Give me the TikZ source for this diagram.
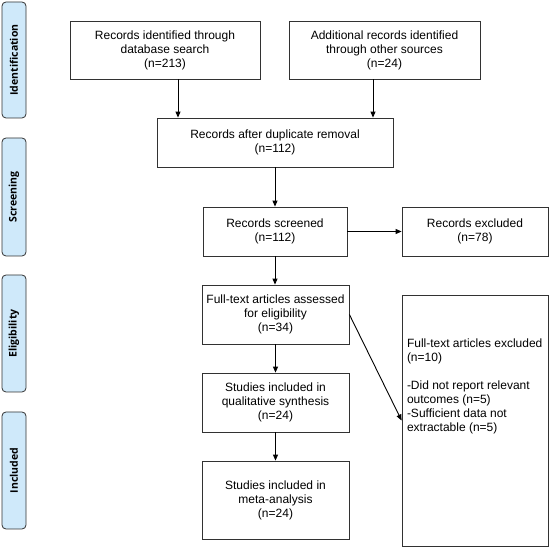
\documentclass[tikz,border=0pt]{standalone}
\usepackage{fontspec}
\setmainfont{Liberation Sans}
\newfontfamily\sidefont{Open Sans}
\usetikzlibrary{arrows.meta}
\definecolor{sideblue}{RGB}{207,233,250}
\definecolor{edge}{RGB}{50,50,50}
\begin{document}
\begin{tikzpicture}[x=1pt,y=-1pt,
  box/.style={draw=edge, line width=0.8pt, fill=white, align=center, inner sep=0pt,
    font=\fontsize{12}{14}\selectfont},
  side/.style={draw=edge, line width=0.8pt, fill=sideblue, rounded corners=4pt,
    minimum width=24pt, inner sep=0pt},
  sidetext/.style={rotate=90, font=\sidefont\bfseries\fontsize{10.5}{12}\selectfont},
  arr/.style={draw=black, line width=0.9pt, -{Triangle[length=6pt,width=5pt]}}]
\useasboundingbox (0,0) rectangle (550,548);
% side labels
\node[side, minimum height=116pt] (s1) at (14,60) {};
\node[sidetext] (t1) at (s1.center) {Identification};
\node[side, minimum height=118pt] (s2) at (14,197) {};
\node[sidetext] (t2) at (s2.center) {Screening};
\node[side, minimum height=117pt] (s3) at (14,333.5) {};
\node[sidetext] (t3) at (s3.center) {Eligibility};
\node[side, minimum height=117pt] (s4) at (14,470.5) {};
\node[sidetext] (t4) at (s4.center) {Included};
% boxes
\node[box, minimum width=190pt, minimum height=58pt] (b1) at (165,50)
  {Records identified through\\database search\\(n=213)};
\node[box, minimum width=191pt, minimum height=58pt] (b2) at (384.5,50)
  {Additional records identified\\through other sources\\(n=24)};
\node[box, minimum width=236pt, minimum height=49pt] (b3) at (275,142.5)
  {Records after duplicate removal\\(n=112)};
\node[box, minimum width=144pt, minimum height=49pt] (b4) at (275,231.5)
  {Records screened\\(n=112)};
\node[box, minimum width=146pt, minimum height=49pt] (b5) at (475,231.5)
  {Records excluded\\(n=78)};
\node[box, minimum width=147pt, minimum height=59pt] (b6) at (275.5,314.5)
  {Full-text articles assessed\\for eligibility\\(n=34)};
\node[box, minimum width=147pt, minimum height=59pt] (b7) at (275.5,402.5)
  {Studies included in\\qualitative synthesis\\(n=24)};
\node[box, minimum width=147pt, minimum height=78pt] (b8) at (275.5,500)
  {Studies included in\\meta-analysis\\(n=24)};
\node[box, minimum width=146pt, minimum height=251pt, align=left] (b9) at (475,420.5)
  {\parbox[c][249pt][t]{136pt}{\raggedright\vspace{43pt}%
   Full-text articles excluded\\(n=10)\\[14pt]-Did not report relevant\\outcomes (n=5)\\-Sufficient data not\\extractable (n=5)}};
% connectors
\coordinate (c1) at (178,0);
\coordinate (c2) at (373,0);
\draw[arr] (c1 |- b1.south) -- (c1 |- b3.north);
\draw[arr] (c2 |- b2.south) -- (c2 |- b3.north);
\draw[arr] (b3.south) -- (b4.north);
\draw[arr] (b4.east) -- (b5.west);
\draw[arr] (b4.south) -- (b4.south |- b6.north);
\draw[arr] (b6.south) -- (b7.north);
\draw[arr] (b7.south) -- (b8.north);
\draw[arr] (b6.east) -- (b9.west);
\end{tikzpicture}
\end{document}
